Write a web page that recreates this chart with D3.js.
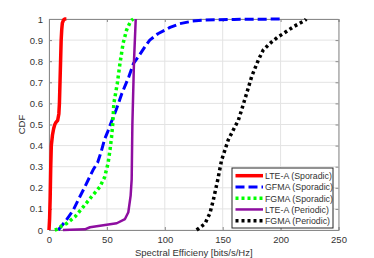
<!DOCTYPE html>
<html><head><meta charset="utf-8">
<script src="https://cdn.jsdelivr.net/npm/d3@7"></script>
<style>body{margin:0;background:#fff;}svg{display:block;font-family:"Liberation Sans",Arial,sans-serif;}</style>
</head><body><svg id="c" width="374" height="258"></svg>
<script>
const xTicks = [0, 50, 100, 150, 200, 250];
const yTicks = [0, 0.1, 0.2, 0.3, 0.4, 0.5, 0.6, 0.7, 0.8, 0.9, 1];
const seriesNames = ["LTE-A (Sporadic)", "GFMA (Sporadic)", "FGMA (Sporadic)", "LTE-A (Periodic)", "FGMA (Periodic)"];
const lteSporadic = [[0,0],[0.5,0.05],[1,0.15],[1.5,0.3],[2,0.4],[3,0.45],[4,0.48],[5,0.5],[6,0.51],[7.5,0.52],[8.5,0.55],[9,0.6],[9.5,0.7],[10,0.8],[10.5,0.9],[11,0.95],[11.5,0.98],[12.5,0.995],[13.5,1],[15,1]];
const gfmaSporadic = [[8,0],[15,0.047],[21,0.095],[25,0.14],[31,0.205],[38,0.284],[42,0.32],[45,0.37],[48,0.43],[51,0.47],[53,0.5],[58,0.57],[63,0.648],[69,0.727],[73,0.79],[77,0.82],[83,0.87],[87,0.9],[94,0.93],[104.5,0.96],[113,0.978],[124,0.99],[135,0.995],[160,0.998],[200,1]];
const fgmaSporadic = [[5,0],[8,0.005],[11,0.02],[15,0.03],[22.5,0.063],[29.6,0.11],[36.8,0.158],[44,0.205],[48,0.25],[51,0.316],[52.7,0.38],[54,0.44],[55,0.5],[56,0.6],[59,0.695],[61.3,0.79],[64,0.885],[67,0.948],[70.5,0.99],[72.8,1]];
const lteAPeriodic = [[12,0],[31,0.003],[35.4,0.013],[49.8,0.025],[58.5,0.032],[65.6,0.052],[68.5,0.084],[70.5,0.163],[71.4,0.24],[72,0.5],[73.4,0.8],[74.9,1]];
const fgmaPeriodic = [[127.5,0],[134.7,0.03],[139,0.08],[141.9,0.142],[145.7,0.237],[149,0.33],[154.8,0.427],[160.6,0.49],[163.5,0.52],[166.4,0.57],[170.7,0.648],[175,0.727],[180.8,0.806],[185,0.853],[190.9,0.885],[198,0.916],[202.7,0.932],[211,0.963],[221.4,0.995],[222,1]];
const seriesData = [lteSporadic, gfmaSporadic, fgmaSporadic, lteAPeriodic, fgmaPeriodic];
const colors = ["#ff0000", "#0000ff", "#00ff00", "#8e0ea0", "#000000"];
const widths = [3.5, 3, 3.5, 2.5, 3.5];
const dashes = [null, "9,4", "3,3", null, "3,3"];

const svg = d3.select("#c");
const L = 49, R = 338.5, T = 19, B = 230;
const x = d3.scaleLinear().domain([0, 250]).range([L, R]);
const y = d3.scaleLinear().domain([0, 1]).range([B, T]);
const tickColor = "#333333";

// grid
svg.append("g").selectAll("line.gx").data(xTicks).join("line")
  .attr("x1", d => x(d)).attr("x2", d => x(d)).attr("y1", T).attr("y2", B)
  .attr("stroke", "#e3e3e3").attr("stroke-width", 1);
svg.append("g").selectAll("line.gy").data(yTicks).join("line")
  .attr("y1", d => y(d)).attr("y2", d => y(d)).attr("x1", L).attr("x2", R)
  .attr("stroke", "#e3e3e3").attr("stroke-width", 1);

// axes
const xa = svg.append("g").attr("transform", `translate(0,${B})`)
  .call(d3.axisBottom(x).tickValues(xTicks).tickSize(-3).tickPadding(6).tickFormat(d3.format("d")));
const ya = svg.append("g").attr("transform", `translate(${L},0)`)
  .call(d3.axisLeft(y).tickValues(yTicks).tickSize(-3).tickPadding(6).tickFormat(d => d === 0 || d === 1 ? d3.format("d")(d) : d3.format(".1f")(d)));
const xt = svg.append("g").attr("transform", `translate(0,${T})`)
  .call(d3.axisTop(x).tickValues(xTicks).tickSize(-3).tickFormat(""));
const yr = svg.append("g").attr("transform", `translate(${R},0)`)
  .call(d3.axisRight(y).tickValues(yTicks).tickSize(-3).tickFormat(""));
[xa, ya, xt, yr].forEach(g => {
  g.selectAll("path").attr("stroke", "#8a8a8a").attr("stroke-width", 1);
  g.selectAll("line").attr("stroke", "#8a8a8a");
  g.selectAll("text").attr("fill", tickColor).attr("font-size", 9.5).attr("font-family", "Liberation Sans, Arial, sans-serif");
});

// lines
const line = d3.line().x(d => x(d[0])).y(d => y(d[1]));
svg.append("clipPath").attr("id", "clip").append("rect")
  .attr("x", L - 3).attr("y", T - 3).attr("width", R - L + 6).attr("height", B - T + 6);
seriesData.forEach((data, i) => {
  svg.append("path").datum(data).attr("d", line)
    .attr("fill", "none").attr("stroke", colors[i]).attr("stroke-width", widths[i])
    .attr("stroke-dasharray", dashes[i]).attr("stroke-linejoin", "round")
    .attr("clip-path", "url(#clip)");
});

// axis labels
svg.append("text").attr("x", (L + R) / 2).attr("y", 256).attr("text-anchor", "middle")
  .attr("font-size", 9.5).attr("fill", tickColor).text("Spectral Efficieny [bits/s/Hz]");
svg.append("text").attr("transform", `translate(25,${(T + B) / 2}) rotate(-90)`).attr("text-anchor", "middle")
  .attr("font-size", 9.5).attr("fill", tickColor).text("CDF");

// legend
const lg = svg.append("g");
const lx = 232, ly = 168, lw = 101, lh = 60;
lg.append("rect").attr("x", lx).attr("y", ly).attr("width", lw).attr("height", lh)
  .attr("fill", "#fff").attr("stroke", "#262626").attr("stroke-width", 1);
seriesNames.forEach((name, i) => {
  const yy = ly + 7.7 + i * 11.25;
  lg.append("line").attr("x1", lx + 3.5).attr("x2", lx + 31).attr("y1", yy).attr("y2", yy)
    .attr("stroke", colors[i]).attr("stroke-width", widths[i]).attr("stroke-dasharray", dashes[i]);
  lg.append("text").attr("x", lx + 33).attr("y", yy + 3.3).attr("font-size", 8.8)
    .attr("fill", tickColor).text(name);
});
</script></body></html>
